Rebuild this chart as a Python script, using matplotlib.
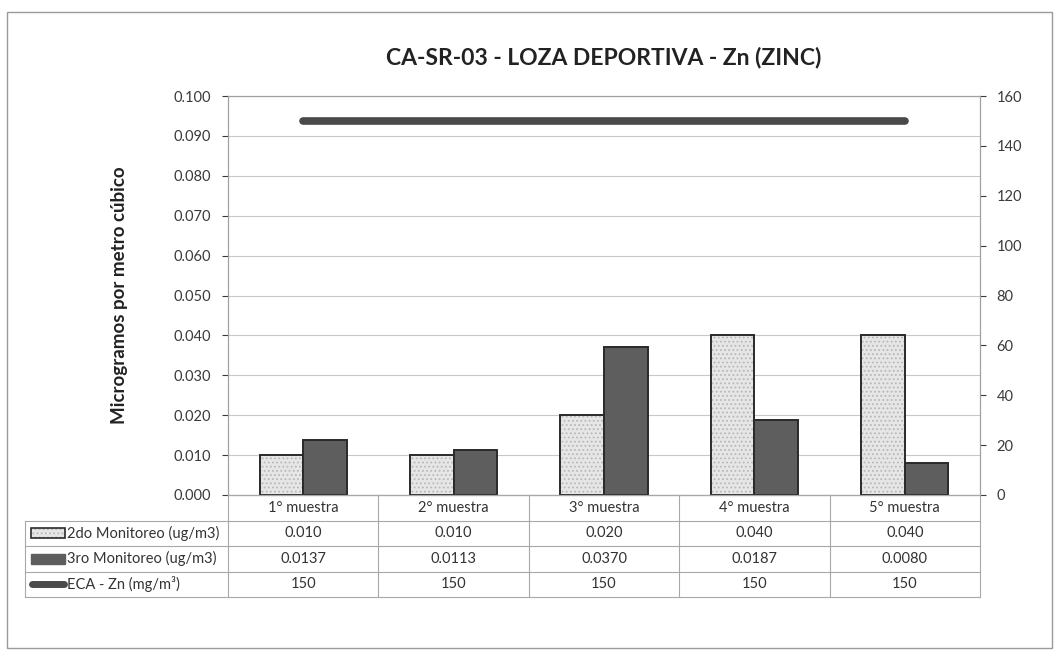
import numpy as np
import matplotlib.pyplot as plt
from matplotlib.patches import Rectangle
from matplotlib.lines import Line2D

plt.rcParams['font.family'] = ['Lato', 'DejaVu Sans']
plt.rcParams['hatch.linewidth'] = 0.8

# Datos del grafico
categorias = ['1° muestra', '2° muestra', '3° muestra', '4° muestra', '5° muestra']
monitoreo_2do = [0.010, 0.010, 0.020, 0.040, 0.040]
monitoreo_3ro = [0.0137, 0.0113, 0.0370, 0.0187, 0.0080]
eca_zn = [150, 150, 150, 150, 150]

etiquetas_2do = ['0.010', '0.010', '0.020', '0.040', '0.040']
etiquetas_3ro = ['0.0137', '0.0113', '0.0370', '0.0187', '0.0080']
etiquetas_eca = ['150', '150', '150', '150', '150']

nombres_series = ['2do Monitoreo (ug/m3)', '3ro Monitoreo (ug/m3)', 'ECA - Zn (mg/m³)']

W, H = 1064, 651
fig = plt.figure(figsize=(W / 100, H / 100), dpi=100)

# Marco exterior del grafico
fig.patches.append(Rectangle((7 / W, 1 - 648 / H), 1045 / W, 636 / H,
                             transform=fig.transFigure, fill=False,
                             edgecolor='#9a9a9a', linewidth=1.0))

# Area de trazado (pixeles: x 228-980, y 96-495)
x0, x1, y_top, y_bot = 228, 980, 96, 495
ax = fig.add_axes([x0 / W, 1 - y_bot / H, (x1 - x0) / W, (y_bot - y_top) / H])

x = np.arange(len(categorias))
ancho = 0.29
claro, oscuro, borde = '#e6e6e6', '#5e5e5e', '#2a2a2a'

# relleno punteado claro y luego el contorno oscuro encima
ax.bar(x - ancho / 2, monitoreo_2do, ancho, color=claro, edgecolor='#b8b8b8',
       linewidth=0, hatch='....', zorder=3)
ax.bar(x - ancho / 2, monitoreo_2do, ancho, fill=False, edgecolor=borde,
       linewidth=1.4, zorder=3)
ax.bar(x + ancho / 2, monitoreo_3ro, ancho, color=oscuro, edgecolor=borde,
       linewidth=1.4, zorder=3)

ax.set_xlim(-0.5, len(categorias) - 0.5)
ax.set_ylim(0, 0.1)
ax.set_yticks(np.arange(0, 0.1001, 0.01))
ax.set_yticklabels([f'{v:.3f}' for v in np.arange(0, 0.1001, 0.01)])
ax.grid(axis='y', color='#c8c8c8', linewidth=0.8, zorder=0)
ax.set_xticks([])
ax.tick_params(axis='y', labelsize=10.5, colors='#3a3a3a', length=4, pad=8)
for s in ['left', 'right', 'top', 'bottom']:
    ax.spines[s].set_color('#a0a0a0')
    ax.spines[s].set_linewidth(0.8)
ax.set_ylabel('Microgramos por metro cúbico', fontsize=13.5, fontweight='bold',
              color='#222222', labelpad=33)

# Eje secundario para el ECA
ax2 = ax.twinx()
ax2.plot(x, eca_zn, color='#4a4a4a', linewidth=5.5, solid_capstyle='round', zorder=4)
ax2.set_ylim(0, 160)
ax2.set_yticks(np.arange(0, 161, 20))
ax2.tick_params(axis='y', labelsize=10.5, colors='#3a3a3a', length=4, pad=8)
for s in ['left', 'right', 'top', 'bottom']:
    ax2.spines[s].set_color('#a0a0a0')
    ax2.spines[s].set_linewidth(0.8)

fig.text(604 / W, 1 - 57 / H, 'CA-SR-03 - LOZA DEPORTIVA - Zn (ZINC)',
         ha='center', va='center', fontsize=16.5, fontweight='bold', color='#222222')

# Tabla de datos bajo el grafico
tr = fig.transFigure
fila_h = 25.5
col_w = (x1 - x0) / len(categorias)
lab_x0 = 25
linea = dict(color='#a8a8a8', linewidth=0.8, transform=tr)

filas = [etiquetas_2do, etiquetas_3ro, etiquetas_eca]
n_filas = len(filas) + 1
y_fin = y_bot + n_filas * fila_h

# lineas horizontales
fig.add_artist(Line2D([x0 / W, x1 / W], [1 - y_bot / H] * 2, **linea))
for i in range(1, n_filas + 1):
    yy = 1 - (y_bot + i * fila_h) / H
    fig.add_artist(Line2D([lab_x0 / W, x1 / W], [yy, yy], **linea))
# lineas verticales
for j in range(len(categorias) + 1):
    xx = (x0 + j * col_w) / W
    fig.add_artist(Line2D([xx, xx], [1 - y_bot / H, 1 - y_fin / H], **linea))
fig.add_artist(Line2D([lab_x0 / W] * 2, [1 - (y_bot + fila_h) / H, 1 - y_fin / H], **linea))

for j, cat in enumerate(categorias):
    fig.text((x0 + (j + 0.5) * col_w) / W, 1 - (y_bot + 0.5 * fila_h) / H, cat,
             ha='center', va='center', fontsize=10.5, color='#333333')
for i, fila in enumerate(filas):
    yc = 1 - (y_bot + (i + 1.5) * fila_h) / H
    for j, val in enumerate(fila):
        fig.text((x0 + (j + 0.5) * col_w) / W, yc, val,
                 ha='center', va='center', fontsize=10.5, color='#333333')
    fig.text(67 / W, yc, nombres_series[i], ha='left', va='center',
             fontsize=10.5, color='#333333')

# claves de leyenda en la tabla
yc = 1 - (y_bot + 1.5 * fila_h) / H
fig.patches.append(Rectangle((31 / W, yc - 5 / H), 34 / W, 10 / H, transform=tr,
                             facecolor=claro, edgecolor='#b8b8b8', linewidth=0,
                             hatch='....'))
fig.patches.append(Rectangle((31 / W, yc - 5 / H), 34 / W, 10 / H, transform=tr,
                             fill=False, edgecolor=borde, linewidth=1.2))
yc = 1 - (y_bot + 2.5 * fila_h) / H
fig.patches.append(Rectangle((31 / W, yc - 5 / H), 34 / W, 10 / H, transform=tr,
                             facecolor=oscuro, edgecolor=oscuro, linewidth=1.0))
yc = 1 - (y_bot + 3.5 * fila_h) / H
fig.add_artist(Line2D([32 / W, 64 / W], [yc, yc], color='#4a4a4a', linewidth=5,
                      solid_capstyle='round', transform=tr))

fig.savefig('out.png', dpi=100)
